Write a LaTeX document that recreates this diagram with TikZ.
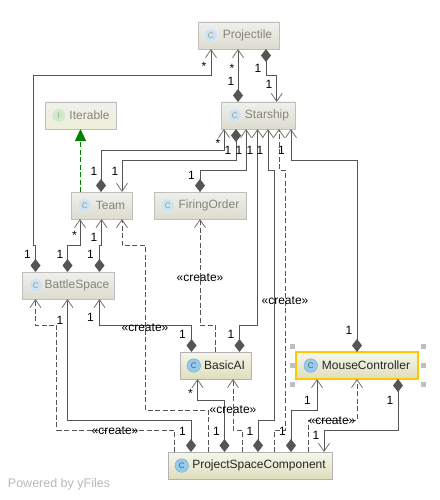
\documentclass[tikz,border=0pt]{standalone}
\usepackage{fontspec}
\setmainfont{Liberation Sans}
\usepackage{xcolor}
\usepackage{tikz}
\usetikzlibrary{arrows.meta,shadows,positioning}
\definecolor{edgegray}{HTML}{555555}
\definecolor{barbgray}{HTML}{707070}
\definecolor{fadetext}{HTML}{85857C}
\definecolor{fadetop}{HTML}{F0F0EC}
\definecolor{fadebot}{HTML}{DCDCD0}
\definecolor{ifacebot}{HTML}{EEEED8}
\definecolor{fulltop}{HTML}{F6F6EC}
\definecolor{fullbot}{HTML}{DEDEBC}
\definecolor{selgold}{HTML}{FFC800}
\definecolor{bluefade}{HTML}{CDE3EF}
\definecolor{bluefull}{HTML}{96CBF0}
\definecolor{greenfade}{HTML}{CDEBC8}
\tikzstyle{classbox} = [rectangle, minimum height=27pt, inner xsep=0pt, inner ysep=0pt, outer sep=0pt, font=\fontsize{12}{14}\selectfont, general shadow={shadow xshift=1pt, shadow yshift=-1pt, fill=gray!75}]
\tikzstyle{classfaded} = [classbox, draw=black!25, top color=fadetop, bottom color=fadebot, text=fadetext]
\tikzstyle{ifacefaded} = [classbox, draw=black!25, top color=fadetop, bottom color=ifacebot, text=fadetext]
\tikzstyle{classfull} = [classbox, draw=black!30, top color=fulltop, bottom color=fullbot, text=black!85]
\tikzstyle{classsel} = [classfull, draw=selgold, line width=1.6pt]
\tikzstyle{icon} = [circle, minimum size=13.5pt, inner sep=0pt, outer sep=0pt, font=\fontsize{8}{8}\selectfont]
\tikzstyle{iconfaded} = [icon, fill=bluefade, draw=black!6, text=black!40]
\tikzstyle{ifaceicon} = [icon, fill=greenfade, draw=black!6, text=black!40]
\tikzstyle{iconfull} = [icon, fill=bluefull, draw=bluefull!80!black, text=black!65]
\tikzstyle{handle} = [rectangle, minimum size=5pt, inner sep=0pt, fill=black!25]
\tikzstyle{comp} = [draw=edgegray, line width=0.9pt, {Diamond[length=13pt,width=10pt,color=edgegray]}-{Straight Barb[length=8pt,width=11pt,color=barbgray,line width=0.8pt]}]
\tikzstyle{dep} = [draw=edgegray, line width=0.8pt, dash pattern=on 5pt off 2.5pt, -{Straight Barb[length=8pt,width=11pt,color=barbgray,line width=0.8pt]}]
\tikzstyle{impl} = [draw=green!50!black, line width=1pt, dash pattern=on 5pt off 2.5pt, -{Triangle[length=12pt,width=11pt]}]
\tikzstyle{lbl} = [inner sep=0pt, font=\fontsize{12}{14}\selectfont, text=black]
\begin{document}
\begin{tikzpicture}[x=1pt, y=-1pt]
\useasboundingbox (0,0) rectangle (439,500);

\node (proj) [classfaded, minimum width=81pt] at (238.5,35.5) {\hspace{18pt}Projectile};
\node (star) [classfaded, minimum width=74pt] at (258,115.5) {\hspace{18pt}Starship};
\node (iter) [ifacefaded, minimum width=71pt] at (80.5,115.5) {\hspace{18pt}Iterable};
\node (team) [classfaded, minimum width=61pt] at (101.5,205.5) {\hspace{18pt}Team};
\node (fire) [classfaded, minimum width=92pt] at (200,205.5) {\hspace{18pt}FiringOrder};
\node (battle) [classfaded, minimum width=92pt] at (68,285.5) {\hspace{18pt}BattleSpace};
\node (basic) [classfull, minimum width=71pt] at (215.5,365.5) {\hspace{18pt}BasicAI};
\node (mouse) [classsel, minimum width=122pt] at (357,365.5) {\hspace{18pt}MouseController};
\node (psc) [classfull, minimum width=164pt] at (250,465.5) {\hspace{18pt}ProjectSpaceComponent};

\node (projicon) [iconfaded, right=6pt of proj.west] {C};
\node (staricon) [iconfaded, right=7pt of star.west] {C};
\node (itericon) [ifaceicon, right=7pt of iter.west] {I};
\node (teamicon) [iconfaded, right=7pt of team.west] {C};
\node (fireicon) [iconfaded, right=7pt of fire.west] {C};
\node (battleicon) [iconfaded, right=7pt of battle.west] {C};
\node (basicicon) [iconfull, right=7pt of basic.west] {C};
\node (mouseicon) [iconfull, right=8pt of mouse.west] {C};
\node (pscicon) [iconfull, right=7pt of psc.west] {C};

\node (h1) [handle] at (292,346) {};
\node (h2) [handle] at (292,365) {};
\node (h3) [handle] at (292,384) {};
\node (h4) [handle] at (423,346) {};
\node (h5) [handle] at (423,365) {};
\node (h6) [handle] at (423,384) {};

\draw[impl] ([xshift=-21]team.north) -- (iter.south);

\draw[comp] ([xshift=-32.5]battle.north) -- ++(0,-27) -- ++(-2,0) -- ++(0,-170) -| ([xshift=-27.5]proj.south);
\draw[comp] ([xshift=-.5]battle.north) -- ++(0,-27) -| ([xshift=-21.5]team.south);
\draw[comp] ([xshift=31.5]battle.north) -- ++(0,-27) -| (team.south);
\draw[comp] ([xshift=-.5]team.north) -- ++(0,-42) -| ([xshift=-34]star.south);
\draw[comp] ([xshift=-22]star.south) -- ++(0,31) -| ([xshift=20.5]team.north);
\draw[comp] (fire.north) -- ++(0,-22) -| ([xshift=-12]star.south);
\draw[comp] ([xshift=24]basic.north) -- ++(0,-27) -| ([xshift=-.5]star.south);
\draw[comp] ([xshift=8]psc.north) -- ++(0,-32) -- ++(16,0) -- ++(0,-250) -| ([xshift=10]star.south);
\draw[comp] ([xshift=41]psc.north) -- ++(0,-42) -| ([xshift=-40]mouse.south);
\draw[comp] (mouse.north) -- ++(0,-192) -| ([xshift=33]star.south);
\draw[comp] ([xshift=41]mouse.south) -- ++(0,51) -| ([xshift=74]psc.north);
\draw[comp] ([xshift=-25.5]psc.north) -- ++(0,-52) -| ([xshift=-18]basic.south);
\draw[comp] ([xshift=-59]psc.north) -- ++(0,-32) -| ([xshift=-.5]battle.south);
\draw[comp] ([xshift=-24]basic.north) -- ++(0,-27) -| ([xshift=31.5]battle.south);
\draw[comp] ([xshift=-20]star.north) -- ([xshift=-.5]proj.south);
\draw[comp] ([xshift=27.5]proj.south) -- ++(0,26) -| ([xshift=18.7]star.north);

\draw[dep] ([xshift=-42]psc.north) -- ++(0,-42) -- ++(-62.5,0) -- ++(0,-164.5) -| ([xshift=20.5]team.south);
\draw[dep] ([xshift=24]psc.north) -- ++(0,-22) -- ++(11,0) -- ++(0,-260) -| ([xshift=21]star.south);
\draw[dep] ([xshift=58]psc.north) -- ++(0,-32) -| (mouse.south);
\draw[dep] ([xshift=-8]psc.north) -- ++(0,-22) -| ([xshift=17.5]basic.south);
\draw[dep] ([xshift=-75.5]psc.north) -- ++(0,-22) -- ++(-117.8,0) -- ++(0,-105) -| ([xshift=-32.5]battle.south);
\draw[dep] (basic.north) -- ++(0,-27) -| (fire.south);

\node (l1) [lbl] at (204,66) {*};
\node (l2) [lbl] at (232,68) {*};
\node (l3) [lbl] at (231,81) {1};
\node (l4) [lbl] at (258,68) {1};
\node (l5) [lbl] at (269,84) {1};
\node (l6) [lbl] at (218,143) {*};
\node (l7) [lbl] at (228,150) {1};
\node (l8) [lbl] at (239,150) {1};
\node (l9) [lbl] at (250,150) {1};
\node (l10) [lbl] at (260,150) {1};
\node (l11) [lbl] at (281.5,150) {1};
\node (l12) [lbl] at (94,171) {1};
\node (l13) [lbl] at (115,171) {1};
\node (l14) [lbl] at (191.5,175) {1};
\node (l15) [lbl] at (74.5,235) {*};
\node (l16) [lbl] at (94,237.5) {1};
\node (l17) [lbl] at (27.5,254) {1};
\node (l18) [lbl] at (60,254) {1};
\node (l19) [lbl] at (90.5,254) {1};
\node (l20) [lbl] at (60,320) {1};
\node (l21) [lbl] at (90.5,317.5) {1};
\node (l22) [lbl] at (182.5,334) {1};
\node (l23) [lbl] at (231,334) {1};
\node (l24) [lbl] at (349,330.5) {1};
\node (l25) [lbl] at (190.5,393) {*};
\node (l26) [lbl] at (307.5,400) {1};
\node (l27) [lbl] at (390,400) {1};
\node (l28) [lbl] at (182.5,431) {1};
\node (l29) [lbl] at (216.5,431) {1};
\node (l30) [lbl] at (250,431) {1};
\node (l31) [lbl] at (282.5,431) {1};
\node (l32) [lbl] at (316,435.5) {1};

\node (c1) [lbl] at (200,278) {«create»};
\node (c2) [lbl] at (285,301) {«create»};
\node (c3) [lbl] at (145,328) {«create»};
\node (c4) [lbl] at (233,410) {«create»};
\node (c5) [lbl] at (332,421) {«create»};
\node (c6) [lbl] at (115,431) {«create»};

\node (yfiles) [inner sep=0pt, text=black!28, font=\fontsize{12.5}{14}\selectfont] at (59,484) {Powered by yFiles};

\end{tikzpicture}
\end{document}
